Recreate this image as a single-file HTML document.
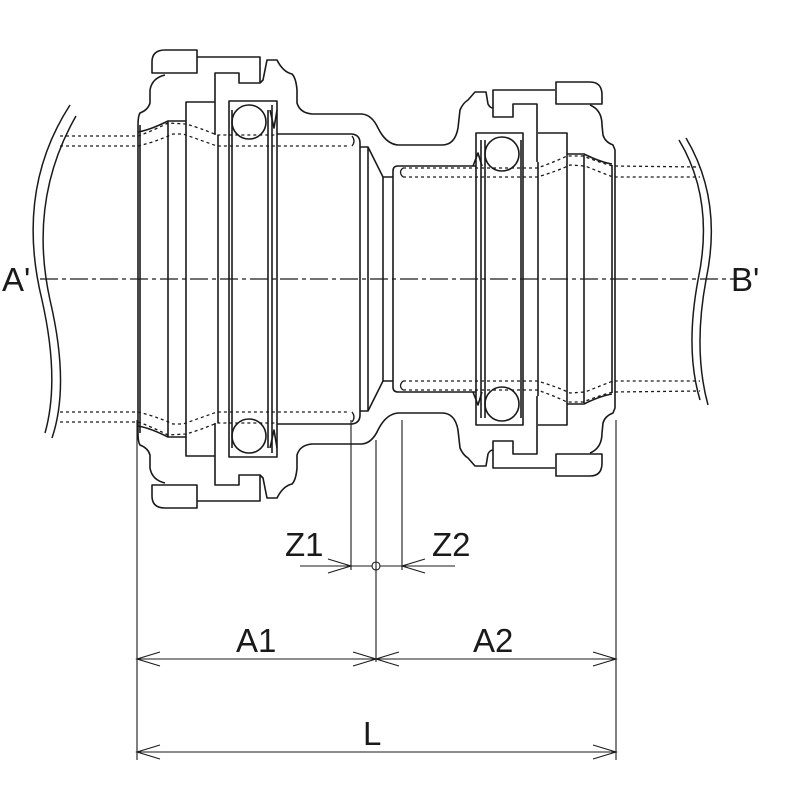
<!DOCTYPE html>
<html><head><meta charset="utf-8"><style>
html,body{margin:0;padding:0;background:#fff;}
svg{display:block;}
text{font-family:"Liberation Sans",sans-serif;font-size:33px;fill:#1a1a1a;}
</style></head><body>
<svg width="800" height="800" viewBox="0 0 800 800" xmlns="http://www.w3.org/2000/svg">
<defs>
<g id="half" fill="none" stroke="#1a1a1a" stroke-width="1.6" stroke-linejoin="round">
  <path d="M197,50 L165,50 Q152,50 152,62 L152,73 L197,73 Z"/>
  <path d="M197,57 L260,57 L260,83 L239,83 L239,73 L215,73 L215,135"/>
  <path d="M165,75 Q152,78 150,90 L150,103 Q148,110 140,113 Q138,116 138,125 L138,279"/>
  <path d="M260,83 L263,80 L267,60 L277,60 Q283,72 292,74 Q296,78 297,90 L297,103 Q300,113 312,114 L362,114 Q372,115 378,128 Q386,144 398,145 L442,145 Q455,145 458,128 L460,110 Q463,103 468,100 L475,92 L486,92 L488,104 Q490,108 493,108 L493,117 L513,117 L513,104 L537,104 L537,162"/>
  <path d="M186,279 L186,102 L215,102"/>
  <path d="M229,279 L229,101 L277,101 L277,279"/>
  <line x1="232" y1="110" x2="232" y2="279"/>
  <line x1="268" y1="110" x2="268" y2="279"/>
  <line x1="272" y1="105" x2="272" y2="279"/>
  <line x1="218" y1="135" x2="218" y2="279"/>
  <line x1="140" y1="125" x2="140" y2="279"/>
  <line x1="168" y1="121" x2="168" y2="279"/>
  <path d="M138,132 Q150,130 168,121 L186,121"/>
  <path d="M277,134 L352,134 Q360,135 360,143 L360,279"/>
  <path d="M360,147 L368,147 L383,177 L393,177"/>
  <line x1="368" y1="147" x2="368" y2="279"/>
  <line x1="383" y1="177" x2="383" y2="279"/>
  <path d="M393,279 L393,171 Q393,166 398,166 L476,166"/>
  <circle cx="249" cy="122" r="17"/>
  <path d="M270,110 L274,128 L277,110"/>
  <path d="M493,108 L493,90 L555,90"/>
  <path d="M556,82 L590,82 Q602,82 602,95 L602,104 L556,104 Z"/>
  <path d="M590,105 Q602,110 602,125 L603,135 Q605,142 613,145 L615,150 L615,279"/>
  <path d="M538,133 L567,133 L567,279"/>
  <line x1="584" y1="155" x2="584" y2="279"/>
  <line x1="612" y1="165" x2="612" y2="279"/>
  <path d="M476,279 L476,133 L523,133 L523,279"/>
  <line x1="481" y1="140" x2="481" y2="279"/>
  <line x1="485" y1="140" x2="485" y2="279"/>
  <line x1="521" y1="140" x2="521" y2="279"/>
  <line x1="538" y1="162" x2="538" y2="279"/>
  <circle cx="502" cy="154" r="17"/>
  <path d="M473,166 L478,153 L482,166"/>
  <path d="M567,154 L584,154 Q600,162 612,164"/>
  <g stroke-dasharray="3,3" stroke-width="1.3">
    <path d="M60,136 L138,136 Q150,132 168,123 L186,124 Q200,128 217,135 L277,135"/>
    <path d="M60,146 L138,146 Q155,142 173,134 L183,134 Q200,140 217,146 L348,146"/>
    <path d="M352,136 Q356,141 352,146" stroke-dasharray="none"/>
    <path d="M403,168 L537,168 Q552,163 567,156 L583,156 Q598,162 613,166 L700,167"/>
    <path d="M403,177 L537,177 Q555,172 570,165 L585,166 Q600,172 613,177 L700,177"/>
    <path d="M403,168 Q398,172 403,177" stroke-dasharray="none"/>
  </g>
</g>
</defs>
<use href="#half"/>
<use href="#half" transform="translate(0,558) scale(1,-1)"/>
<g fill="none" stroke="#1a1a1a" stroke-width="1.5">
  <path d="M70,105 Q15,190 42,300 Q60,380 45,433"/>
  <path d="M76,116 Q28,200 50,300 Q70,385 52,438"/>
  <path d="M679,140 Q715,200 698,280 Q685,350 700,400"/>
  <path d="M686,138 Q723,200 706,280 Q693,350 708,405"/>
</g>
<line x1="40" y1="279" x2="735" y2="279" stroke="#1a1a1a" stroke-width="1.2" stroke-dasharray="18,4,4,4"/>
<g fill="none" stroke="#1a1a1a" stroke-width="1.1">
  <line x1="137" y1="420" x2="137" y2="760"/>
  <line x1="616" y1="420" x2="616" y2="760"/>
  <line x1="376" y1="440" x2="376" y2="662"/>
  <line x1="351" y1="420" x2="351" y2="570"/>
  <line x1="402" y1="420" x2="402" y2="570"/>
  <line x1="300" y1="566" x2="372" y2="566"/>
  <line x1="380" y1="566" x2="455" y2="566"/>
  <circle cx="376" cy="566" r="4"/>
  <path d="M328,559 L351,566 L328,573"/>
  <path d="M425,559 L402,566 L425,573"/>
  <line x1="137" y1="659" x2="616" y2="659"/>
  <path d="M160,652 L137,659 L160,666"/>
  <path d="M353,652 L376,659 L353,666"/>
  <path d="M399,652 L376,659 L399,666"/>
  <path d="M593,652 L616,659 L593,666"/>
  <line x1="137" y1="752" x2="616" y2="752"/>
  <path d="M160,745 L137,752 L160,759"/>
  <path d="M593,745 L616,752 L593,759"/>
</g>
<text x="2" y="291">A'</text>
<text x="731" y="291">B'</text>
<text x="285" y="556">Z1</text>
<text x="432" y="556">Z2</text>
<text x="236" y="652">A1</text>
<text x="473" y="652">A2</text>
<text x="363" y="745">L</text>
</svg>
</body></html>
